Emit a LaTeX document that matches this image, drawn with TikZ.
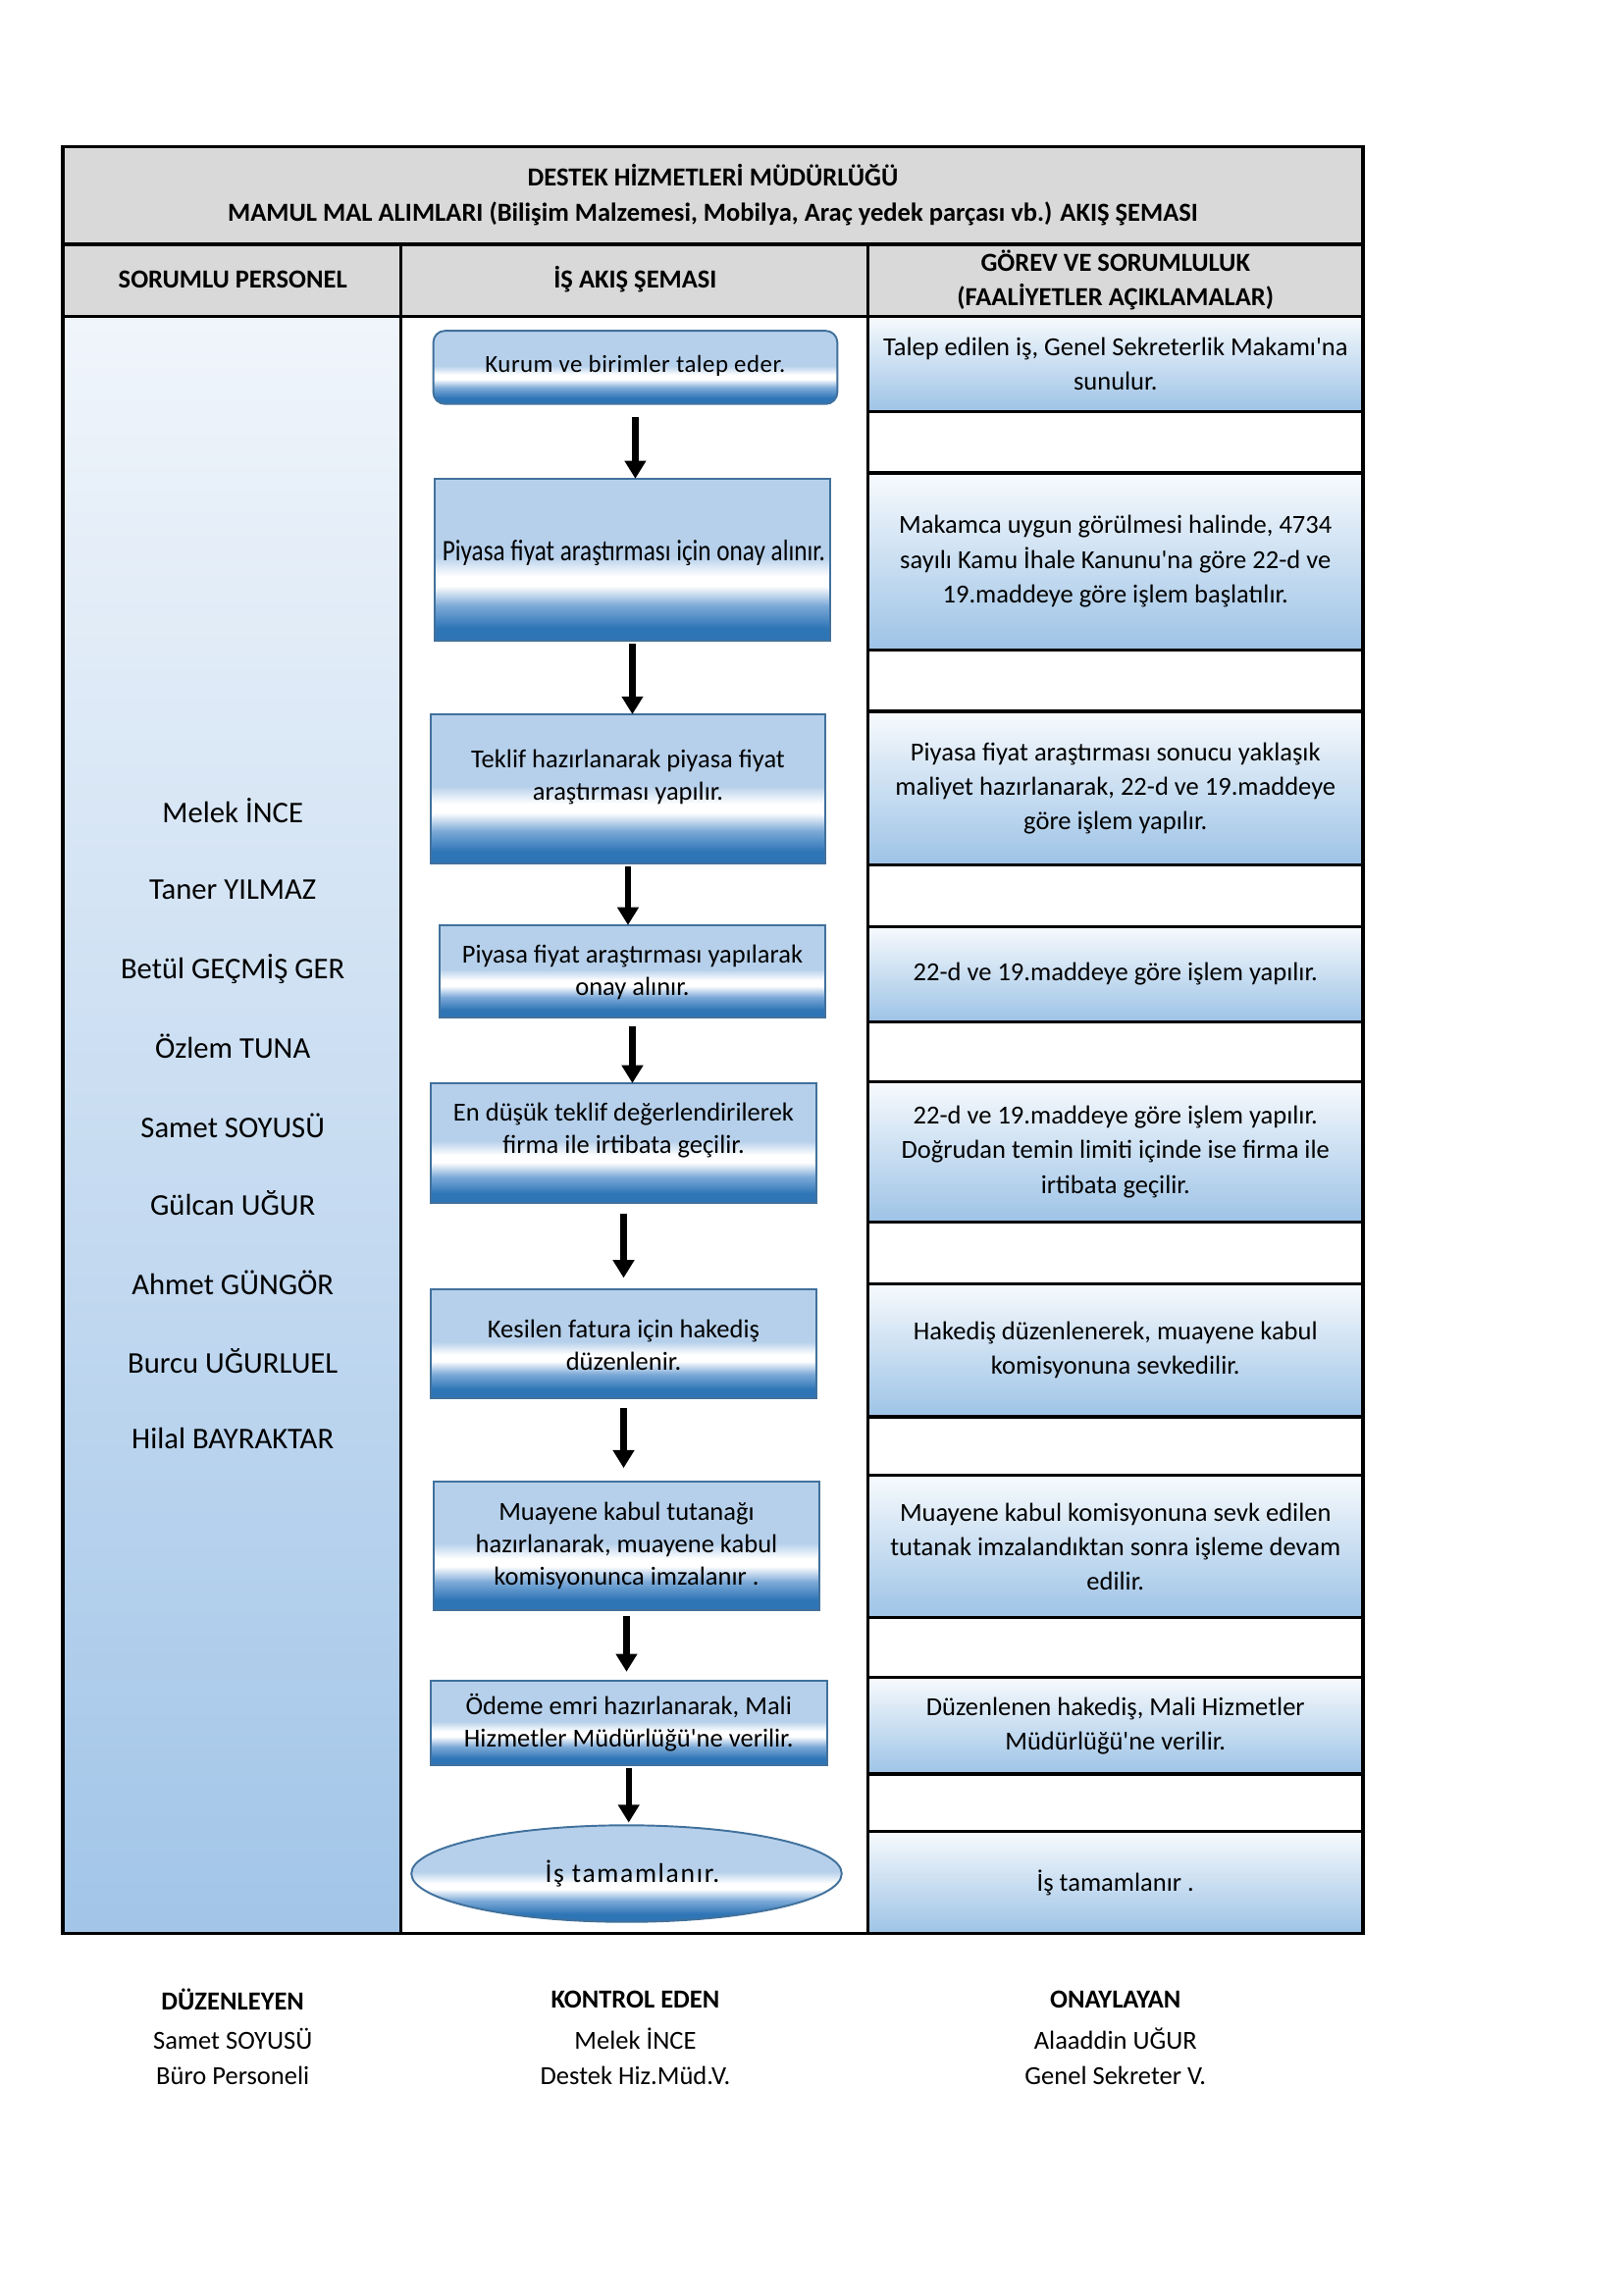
\documentclass[tikz,border=0pt]{standalone}
\usepackage{fontspec}
\setmainfont{Carlito}[Ligatures=TeXOff]
\newfontfamily\condfont{Carlito}[FakeStretch=0.83,Ligatures=TeXOff]
\newfontfamily\spacedfont{Carlito}[LetterSpace=6,Ligatures=TeXOff]
\newfontfamily\lightspaced{Carlito}[LetterSpace=2,Ligatures=TeXOff]
\usetikzlibrary{arrows.meta,shapes.geometric}

\definecolor{fdark}{HTML}{2E75B6}
\definecolor{fmid}{HTML}{7DAAD8}
\definecolor{flight}{HTML}{B6D0EB}
\definecolor{fborder}{HTML}{41719C}
\definecolor{hgray}{HTML}{D9D9D9}
\definecolor{ctop}{HTML}{F7FAFD}
\definecolor{cbot}{HTML}{9DC3E6}
\definecolor{ltop}{HTML}{F0F5FB}
\definecolor{lbot}{HTML}{A2C5E8}

\pgfdeclareverticalshading{flowshade}{100bp}{color(0bp)=(fdark); color(25bp)=(fdark); color(29bp)=(fdark); color(36bp)=(fmid); color(42bp)=(white); color(45bp)=(white); color(51bp)=(flight); color(75bp)=(flight); color(100bp)=(flight)}

\def\unitpx{0.54pt}

\tikzset{
  tline/.style={draw=black, line width=1.2pt},
  rcell/.style={draw=black, line width=1.2pt, top color=ctop, bottom color=cbot,
    minimum width=338*\unitpx, inner sep=0pt, outer sep=0pt, align=center,
    font=\fontsize{9.6}{12.7}\selectfont},
  flow/.style={draw=fborder, line width=0.7pt, shading=flowshade, inner sep=0pt, outer sep=0pt},
  btext/.style={align=center, inner sep=0pt, font=\fontsize{9.6}{11.9}\selectfont},
  hdr/.style={align=center, inner sep=0pt, font=\fontsize{9.6}{12.6}\selectfont\bfseries},
  pname/.style={inner sep=0pt, font=\fontsize{11.1}{13}\selectfont},
  ftext/.style={inner sep=0pt, font=\fontsize{9.6}{12}\selectfont},
  fhead/.style={inner sep=0pt, font=\fontsize{9.6}{12}\selectfont\bfseries},
  arr/.style={-{Triangle[width=7.6pt,length=6.6pt]}, line width=2.3pt, draw=black}
}

\begin{document}
\begin{tikzpicture}[x=0.54pt,y=-0.54pt]
\useasboundingbox (0,0) rectangle (1108.8,1567.9);

% backgrounds
\fill[hgray] (43,100) rectangle (931,216);
\shade[top color=ltop,bottom color=lbot] (43,216) rectangle (274,1321);

% right column cells
\node[rcell, minimum height=65*\unitpx] (r1) at (762,248.5) {Talep edilen iş, Genel Sekreterlik Makamı'na\\sunulur.};
\node[rcell, minimum height=121*\unitpx] (r2) at (762,383.5) {Makamca uygun görülmesi halinde, 4734\\sayılı Kamu İhale Kanunu'na göre 22-d ve\\19.maddeye göre işlem başlatılır.};
\node[rcell, minimum height=105*\unitpx] (r3) at (762,538.5) {Piyasa fiyat araştırması sonucu yaklaşık\\maliyet hazırlanarak, 22-d ve 19.maddeye\\göre işlem yapılır.};
\node[rcell, minimum height=65*\unitpx] (r4) at (762,665.5) {22-d ve 19.maddeye göre işlem yapılır.};
\node[rcell, minimum height=96*\unitpx] (r5) at (762,787) {22-d ve 19.maddeye göre işlem yapılır.\\Doğrudan temin limiti içinde ise firma ile\\irtibata geçilir.};
\node[rcell, minimum height=91*\unitpx] (r6) at (762,922.5) {Hakediş düzenlenerek, muayene kabul\\komisyonuna sevkedilir.};
\node[rcell, minimum height=97*\unitpx] (r7) at (762,1056.5) {Muayene kabul komisyonuna sevk edilen\\tutanak imzalandıktan sonra işleme devam\\edilir.};
\node[rcell, minimum height=66*\unitpx] (r8) at (762,1179) {Düzenlenen hakediş, Mali Hizmetler\\Müdürlüğü'ne verilir.};
\node[rcell, minimum height=70*\unitpx] (r9) at (762,1286) {İş tamamlanır .};

% table frame
\draw[tline] (43,100) rectangle (931,1321);
\draw[tline] (43,167) -- (931,167);
\draw[tline] (43,216) -- (931,216);
\draw[tline] (274,167) -- (274,1321);
\draw[tline] (593,167) -- (593,1321);

% headings
\node[hdr] (title) at (487,133) {DESTEK HİZMETLERİ MÜDÜRLÜĞÜ\\[0.5pt]MAMUL MAL ALIMLARI (Bilişim Malzemesi, Mobilya, Araç yedek parçası vb.) AKIŞ ŞEMASI};
\node[hdr] (h1) at (159,191) {SORUMLU PERSONEL};
\node[hdr] (h2) at (434,191) {İŞ AKIŞ ŞEMASI};
\node[hdr] (h3) at (762,191.5) {GÖREV VE SORUMLULUK\\(FAALİYETLER AÇIKLAMALAR)};

% personnel
\node[pname] (p1) at (159,554) {Melek İNCE};
\node[pname] (p2) at (159,608) {Taner YILMAZ};
\node[pname] (p3) at (159,662) {Betül GEÇMİŞ GER};
\node[pname] (p4) at (159,715) {Özlem TUNA};
\node[pname] (p5) at (159,769) {Samet SOYUSÜ};
\node[pname] (p6) at (159,822) {Gülcan UĞUR};
\node[pname] (p7) at (159,876) {Ahmet GÜNGÖR};
\node[pname] (p8) at (159,930) {Burcu UĞURLUEL};
\node[pname] (p9) at (159,983) {Hilal BAYRAKTAR};

% flow boxes
\node[flow, rounded corners=4.3pt, minimum width=276*\unitpx, minimum height=50*\unitpx] (b1) at (434,251) {};
\node[flow, minimum width=270*\unitpx, minimum height=111*\unitpx] (b2) at (432,382.5) {};
\node[flow, minimum width=270*\unitpx, minimum height=102*\unitpx] (b3) at (429,539) {};
\node[flow, minimum width=264*\unitpx, minimum height=63*\unitpx] (b4) at (432,663.5) {};
\node[flow, minimum width=264*\unitpx, minimum height=82*\unitpx] (b5) at (426,781) {};
\node[flow, minimum width=264*\unitpx, minimum height=74*\unitpx] (b6) at (426,918) {};
\node[flow, minimum width=264*\unitpx, minimum height=88*\unitpx] (b7) at (428,1056) {};
\node[flow, minimum width=271*\unitpx, minimum height=58*\unitpx] (b8) at (429.5,1177) {};
\node[flow, ellipse, minimum width=294*\unitpx, minimum height=66*\unitpx] (b9) at (428,1280) {};

\node[btext, font=\fontsize{9}{11}\lightspaced] (t1) at (434,250) {Kurum ve birimler talep eder.};
\node[btext, font=\fontsize{11}{13}\condfont] (t2) at (433,378) {Piyasa fiyat araştırması için onay alınır.};
\node[btext] (t3) at (429,531) {Teklif hazırlanarak piyasa fiyat\\araştırması yapılır.};
\node[btext] (t4) at (432,664) {Piyasa fiyat araştırması yapılarak\\onay alınır.};
\node[btext] (t5) at (426,772) {En düşük teklif değerlendirilerek\\firma ile irtibata geçilir.};
\node[btext] (t6) at (426,919) {Kesilen fatura için hakediş\\düzenlenir.};
\node[btext] (t7) at (428,1056) {Muayene kabul tutanağı\\hazırlanarak, muayene kabul\\komisyonunca imzalanır .};
\node[btext] (t8) at (429.5,1177) {Ödeme emri hazırlanarak, Mali\\Hizmetler Müdürlüğü'ne verilir.};
\node[btext, font=\fontsize{10}{12}\spacedfont] (t9) at (432,1280) {İş tamamlanır.};

% arrows
\draw[arr, shorten <=4.9pt] (b1.south) -- (b1.south |- b2.north);
\draw[arr, shorten <=1pt] (b2.south) -- (b2.south |- b3.north);
\draw[arr, shorten <=1pt] (b3.south) -- (b3.south |- b4.north);
\draw[arr, shorten <=3.2pt] (b4.south) -- (b4.south |- b5.north);
\draw[arr, shorten <=3.8pt, shorten >=4.3pt] (b5.south) -- (b5.south |- b6.north);
\draw[arr, shorten <=3.8pt, shorten >=4.9pt] (b6.south) -- (b6.south |- b7.north);
\draw[arr, shorten <=2.2pt, shorten >=3.2pt] (b7.south) -- (b7.south |- b8.north);
\draw[arr, shorten <=1pt, shorten >=1pt] (b8.south) -- (b8.south |- b9.north);

% footer
\node[fhead] (f1) at (159,1366) {DÜZENLEYEN};
\node[ftext] (f2) at (159,1393) {Samet SOYUSÜ};
\node[ftext] (f3) at (159,1418) {Büro Personeli};
\node[fhead] (g1) at (434,1366) {KONTROL EDEN};
\node[ftext] (g2) at (434,1393) {Melek İNCE};
\node[ftext] (g3) at (434,1418) {Destek Hiz.Müd.V.};
\node[fhead] (k1) at (762,1366) {ONAYLAYAN};
\node[ftext] (k2) at (762,1393) {Alaaddin UĞUR};
\node[ftext] (k3) at (762,1418) {Genel Sekreter V.};
\end{tikzpicture}
\end{document}
